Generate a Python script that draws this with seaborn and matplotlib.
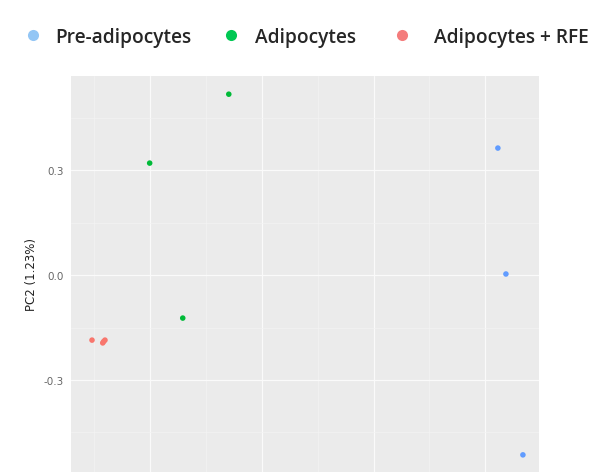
import pandas as pd
import matplotlib.pyplot as plt
from matplotlib.lines import Line2D
from matplotlib.ticker import MultipleLocator
import seaborn as sns

# PCA scores
groups = ['Pre-adipocytes', 'Adipocytes', 'Adipocytes + RFE']
pc1_pre = [0.528, 0.546, 0.584]
pc2_pre = [0.363, 0.003, -0.514]
pc1_adi = [-0.074, -0.251, -0.177]
pc2_adi = [0.517, 0.320, -0.123]
pc1_rfe = [-0.380, -0.356, -0.351, -0.354]
pc2_rfe = [-0.186, -0.194, -0.186, -0.190]
y_ticks = [-0.3, 0.0, 0.3]

df = pd.DataFrame({
    'PC1': pc1_pre + pc1_adi + pc1_rfe,
    'PC2': pc2_pre + pc2_adi + pc2_rfe,
    'group': [groups[0]] * 3 + [groups[1]] * 3 + [groups[2]] * 4,
})

point_cols = {'Pre-adipocytes': '#619CFF', 'Adipocytes': '#00BA38', 'Adipocytes + RFE': '#F8766D'}
legend_cols = ['#93C6F5', '#00C853', '#F47C7C']

sns.set_style('darkgrid', {'axes.facecolor': '#EBEBEB', 'grid.color': 'white'})

fig = plt.figure(figsize=(5.89, 4.77), dpi=100)
ax = fig.add_axes([71 / 589, 4 / 477, 468 / 589, 396 / 477])

sns.scatterplot(data=df, x='PC1', y='PC2', hue='group', palette=point_cols,
                s=16, edgecolor='none', legend=False, ax=ax)

ax.set_xlim(-0.427, 0.620)
ax.set_ylim(-0.563, 0.569)
ax.xaxis.set_major_locator(MultipleLocator(0.25))
ax.xaxis.set_minor_locator(MultipleLocator(0.125))
ax.set_yticks(y_ticks)
ax.set_yticklabels(['-0.3', '0.0', '0.3'])
ax.yaxis.set_minor_locator(MultipleLocator(0.15))
ax.set_xticklabels([])
ax.grid(which='major', color='#FAFAFA', linewidth=0.9)
ax.grid(which='minor', color='#F3F3F3', linewidth=0.5)
for s in ax.spines.values():
    s.set_visible(False)
ax.tick_params(axis='both', which='major', length=3, color='#666666',
               labelsize=7.5, labelcolor='#666666', pad=2)
ax.tick_params(axis='both', which='minor', length=0)
ax.set_xlabel('')
ax.set_ylabel('PC2 (1.23%)', fontsize=8.5, color='#222222', labelpad=4)

# legend entries placed one by one (marker centre x in pixels, gap to text)
fs = 13.8
fs_px = fs * 100 / 72
marker_x = [33, 231, 402]
text_gap = [22, 24, 32]
for col, lab, mx, gap in zip(legend_cols, groups, marker_x, text_gap):
    h = Line2D([], [], marker='o', linestyle='', markersize=8,
               markerfacecolor=col, markeredgecolor='none')
    fig.legend([h], [lab], loc='center left',
               bbox_to_anchor=((mx - fs_px / 2) / 589, 1 - 38 / 477),
               frameon=False, handlelength=1.0,
               handletextpad=(gap - fs_px / 2) / fs_px,
               borderaxespad=0, borderpad=0,
               prop={'family': 'Open Sans', 'weight': 'semibold', 'size': fs})

fig.savefig('out.png', dpi=100)
